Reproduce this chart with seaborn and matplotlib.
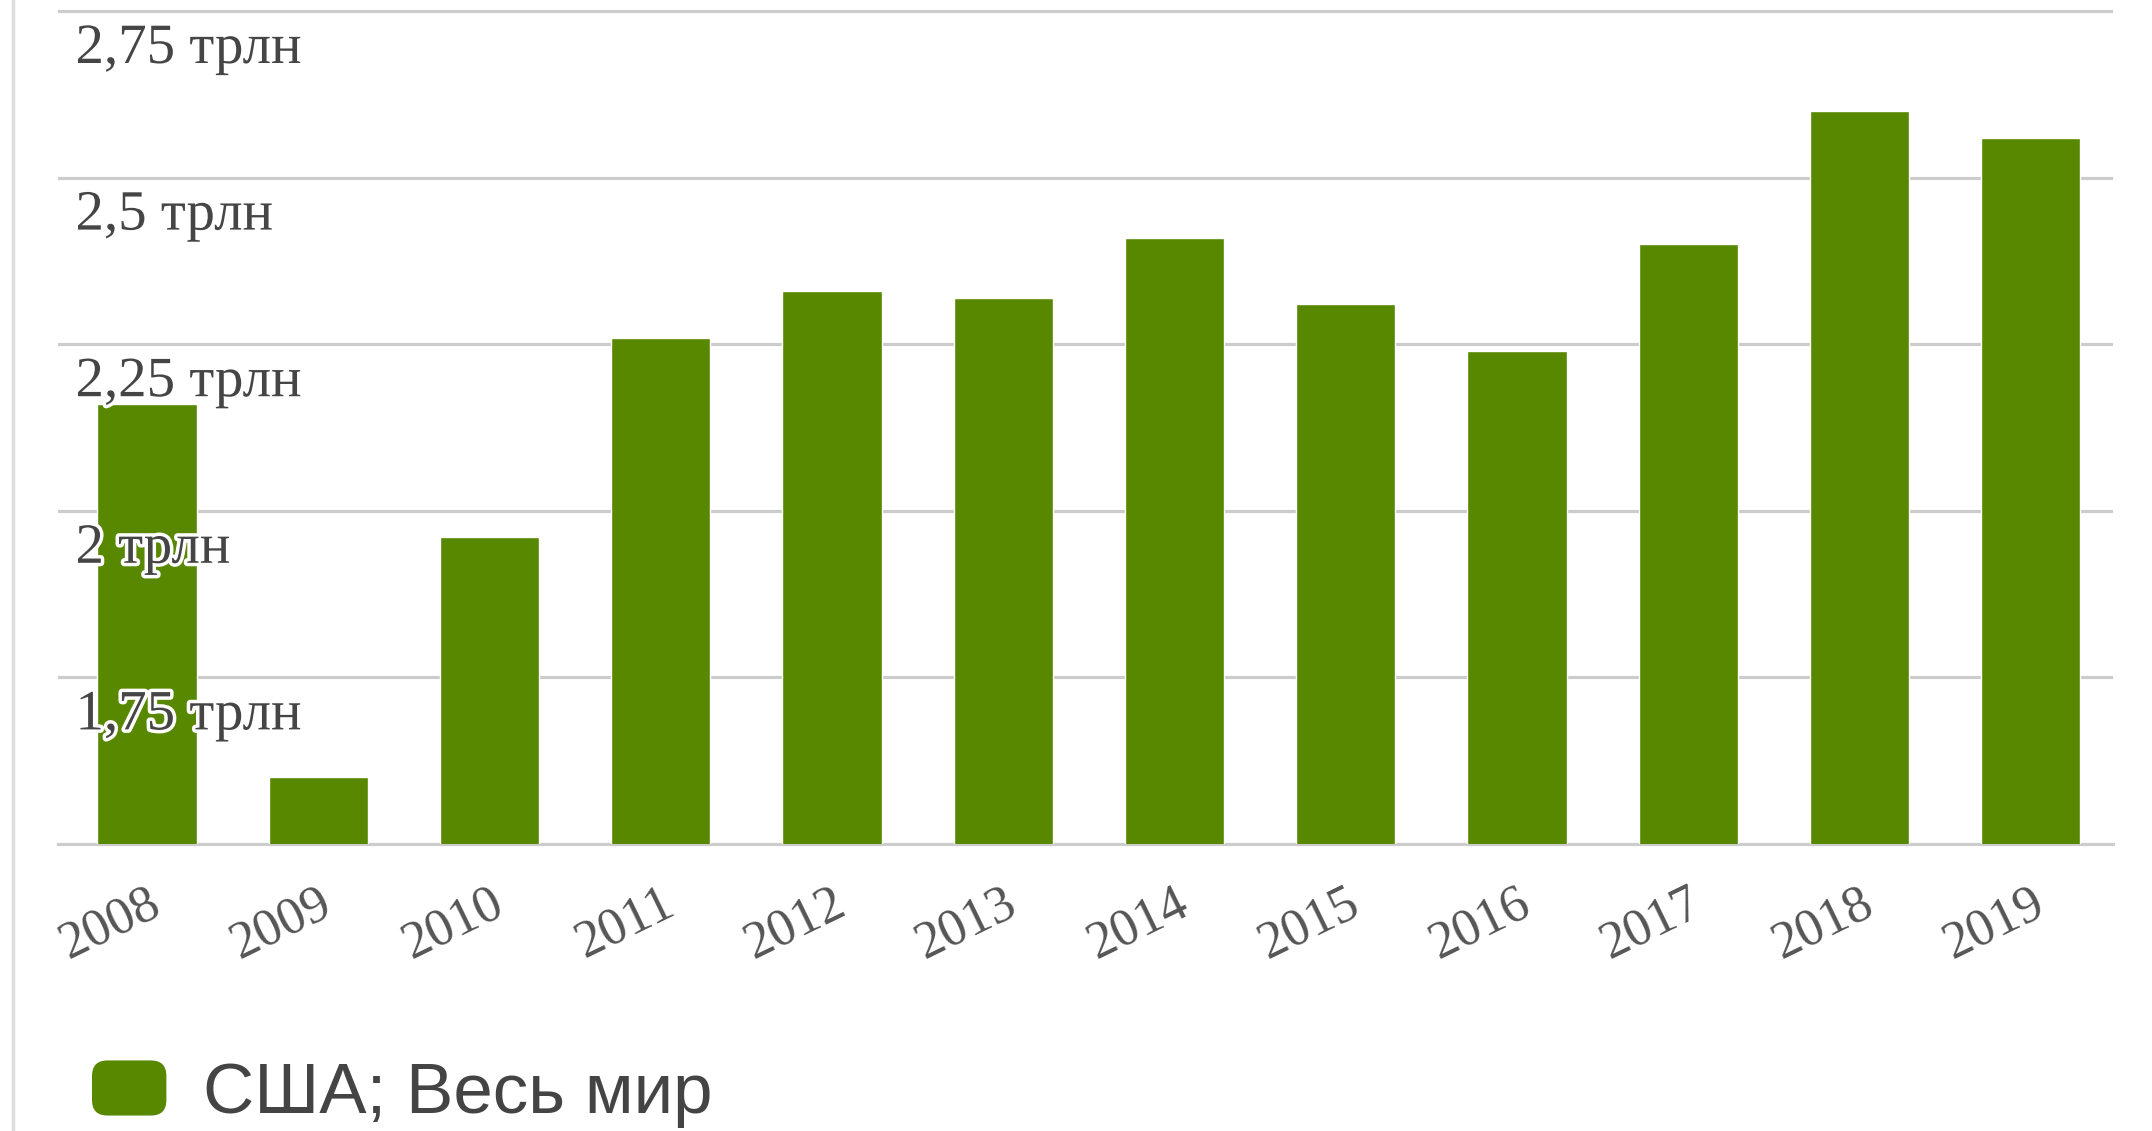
import matplotlib
matplotlib.use("Agg")
import matplotlib.pyplot as plt
import matplotlib.transforms as mtransforms
import matplotlib.patheffects as pe
from matplotlib.patches import Patch, FancyBboxPatch
from matplotlib.legend_handler import HandlerBase
from matplotlib.lines import Line2D
import seaborn as sns

# data (trillions)
years = ["2008", "2009", "2010", "2011", "2012", "2013",
         "2014", "2015", "2016", "2017", "2018", "2019"]
values = [2.16, 1.60, 1.96, 2.26, 2.33, 2.32, 2.41, 2.31, 2.24, 2.40, 2.60, 2.56]
y_ticks = [1.75, 2.0, 2.25, 2.5, 2.75]
y_tick_labels = ["1,75 трлн", "2 трлн", "2,25 трлн", "2,5 трлн", "2,75 трлн"]
series_name = "США; Весь мир"

green = "#588700"
grid_col = "#cccccc"

sns.set_style("white")
plt.rcParams["font.family"] = ["Liberation Serif", "DejaVu Serif"]

W, H = 2152, 1131
fig = plt.figure(figsize=(W / 100, H / 100), dpi=100)
base_px, top_grid_px = 844, 11
ymin, ymax = 1.5, 2.755
px_per_unit = (base_px - top_grid_px) / 1.25
top_px = top_grid_px - (ymax - 2.75) * px_per_unit
ax = fig.add_axes([58 / W, 1 - base_px / H, (2113 - 58) / W, (base_px - top_px) / H])

sns.barplot(x=years, y=values, color=green, saturation=1, width=0.58, ax=ax, zorder=3)
ax.set_ylim(ymin, ymax)
ax.set_xlim(-0.52, 11.48)

# gridlines
ax.set_yticks(y_ticks)
ax.yaxis.grid(True, color=grid_col, linewidth=2.3, zorder=0)
ax.set_axisbelow(True)
ax.tick_params(axis="y", left=False, labelleft=False)
for s in ["top", "left", "right"]:
    ax.spines[s].set_visible(False)
ax.spines["bottom"].set_color(grid_col)
ax.spines["bottom"].set_linewidth(2.3)
ax.set_xlabel("")
ax.set_ylabel("")

# y labels inside the plot, under their gridlines, with a white halo
trans = mtransforms.blended_transform_factory(ax.transAxes, ax.transData)
trans = mtransforms.offset_copy(trans, fig=fig, x=0, y=-52, units="dots")
for v, lab in zip(y_ticks, y_tick_labels):
    ax.text(0.0085, v, lab, transform=trans, ha="left", va="baseline",
            fontsize=41, color="#454545", zorder=5,
            path_effects=[pe.withStroke(linewidth=5, foreground="white")])

# x tick labels
ax.tick_params(axis="x", bottom=False, pad=22)
ax.set_xticks(range(len(years)))
ax.set_xticklabels(years, rotation=26, ha="right", va="top",
                   rotation_mode="anchor", fontsize=38, color="#555555")

# left frame line
fig.add_artist(Line2D([13 / W, 13 / W], [0, 1], transform=fig.transFigure,
                      color="#dddddd", linewidth=2.5))


class RoundHandler(HandlerBase):
    def create_artists(self, legend, orig_handle, xdescent, ydescent,
                       width, height, fontsize, trans):
        p = FancyBboxPatch((-xdescent, -ydescent), width, height,
                           boxstyle="round,pad=0,rounding_size=%f" % (height * 0.28),
                           facecolor=orig_handle.get_facecolor(), edgecolor="none",
                           transform=trans)
        return [p]


leg = ax.legend(handles=[Patch(facecolor=green, label=series_name)],
                handler_map={Patch: RoundHandler()},
                loc="center left", bbox_to_anchor=(92 / W, 1 - 1094 / H),
                bbox_transform=fig.transFigure, frameon=False,
                borderpad=0, borderaxespad=0,
                handlelength=1.05, handleheight=0.82, handletextpad=0.52,
                prop={"family": "Liberation Sans", "size": 51})
for t in leg.get_texts():
    t.set_color("#444444")

fig.savefig("out.png", dpi=100, facecolor="white")
